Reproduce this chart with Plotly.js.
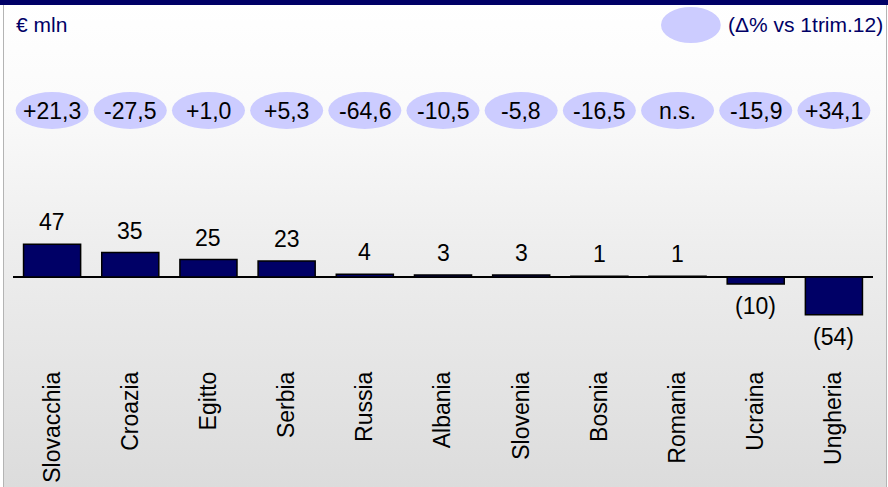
<!DOCTYPE html>
<html>
<head>
<meta charset="utf-8">
<script src="https://cdn.plot.ly/plotly-3.0.1.min.js"></script>
<style>
  html, body { margin: 0; padding: 0; background: #ffffff; }
  #frame { position: absolute; left: 3px; top: 0; width: 882px; height: 487px;
           border-left: 1px solid #b4b4b4; border-right: 1px solid #b4b4b4;
           background: linear-gradient(to bottom, #ffffff 0%, #fbfbfb 20%, #eeeeee 50%, #dcdcdc 100%); }
  #topbar { position: absolute; left: 0; top: 0; width: 888px; height: 5px; background: #000066; z-index: 5; }
  #chart { position: absolute; left: 0; top: 0; width: 888px; height: 487px; }
</style>
</head>
<body>
<div id="frame"></div>
<div id="chart"></div>
<div id="topbar"></div>
<script>
const categories = ['Slovacchia','Croazia','Egitto','Serbia','Russia','Albania','Slovenia','Bosnia','Romania','Ucraina','Ungheria'];
const values = [47, 35, 25, 23, 4, 3, 3, 1, 1, -10, -54];
const deltaLabels = ['+21,3','-27,5','+1,0','+5,3','-64,6','-10,5','-5,8','-16,5','n.s.','-15,9','+34,1'];
const unitLabel = '€ mln';
const legendLabel = '(Δ% vs 1trim.12)';

const FONT = 'Liberation Sans, Arial, Helvetica, sans-serif';
const NAVY = '#000066';
const valueText = values.map(v => v < 0 ? '(' + Math.abs(v) + ')' : String(v));

const annotations = [];
const shapes = [];

values.forEach((v, i) => {
  annotations.push({
    x: categories[i], y: v, xref: 'x', yref: 'y',
    text: valueText[i], showarrow: false,
    xanchor: 'center', yanchor: 'middle',
    yshift: v < 0 ? -22 : 22,
    font: {family: FONT, size: 23, color: '#000000'}
  });
});

deltaLabels.forEach((d, i) => {
  shapes.push({
    type: 'circle', xref: 'x', yref: 'y',
    x0: i - 0.467, x1: i + 0.467, y0: 212, y1: 265,
    fillcolor: '#ccccff', line: {width: 0}, layer: 'below'
  });
  annotations.push({
    x: categories[i], y: 238.5, xref: 'x', yref: 'y',
    text: d, showarrow: false, xanchor: 'center', yanchor: 'middle',
    font: {family: FONT, size: 23, color: '#000000'}
  });
});

// legend ellipse + text
shapes.push({
  type: 'circle', xref: 'paper', yref: 'paper',
  x0: 0.7535, x1: 0.823, y0: 0.8825, y1: 0.981,
  fillcolor: '#ccccff', line: {width: 0}, layer: 'below'
});
annotations.push({
  x: 0.829, y: 0.932, xref: 'paper', yref: 'paper',
  text: legendLabel, showarrow: false, xanchor: 'left', yanchor: 'middle',
  font: {family: FONT, size: 21, color: NAVY}
});
annotations.push({
  x: 0.001, y: 0.932, xref: 'paper', yref: 'paper',
  text: unitLabel, showarrow: false, xanchor: 'left', yanchor: 'middle',
  font: {family: FONT, size: 21, color: NAVY}
});

const trace = {
  type: 'bar', x: categories, y: values,
  marker: {color: NAVY, line: {color: '#000000', width: 1.5}},
  hoverinfo: 'none'
};

const layout = {
  width: 888, height: 487,
  margin: {l: 13, r: 15, t: 0, b: 121},
  paper_bgcolor: 'rgba(0,0,0,0)', plot_bgcolor: 'rgba(0,0,0,0)',
  bargap: 0.27,
  showlegend: false,
  xaxis: {
    type: 'category', tickangle: -90, ticks: '', showline: false, showgrid: false,
    tickfont: {family: FONT, size: 23, color: '#000000'}, automargin: false
  },
  yaxis: {
    range: [-127.5, 396.8], showgrid: false, showticklabels: false, ticks: '',
    zeroline: true, zerolinecolor: '#000000', zerolinewidth: 1.5, showline: false
  },
  shapes: shapes,
  annotations: annotations
};

Plotly.newPlot('chart', [trace], layout, {displayModeBar: false, staticPlot: true});
</script>
</body>
</html>
